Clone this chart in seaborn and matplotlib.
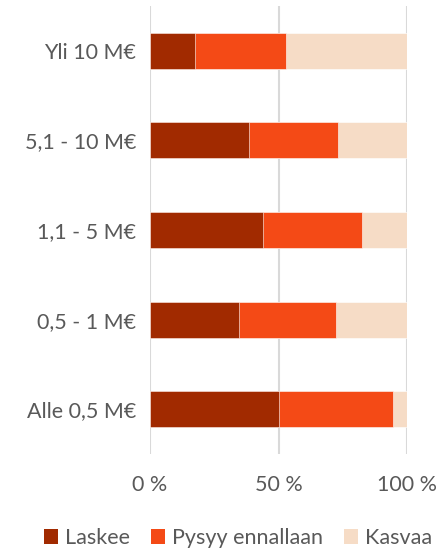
import matplotlib
matplotlib.use("Agg")
import matplotlib.pyplot as plt
import seaborn as sns
import pandas as pd
import numpy as np
from matplotlib.patches import Patch

categories = ["Yli 10 M€", "5,1 - 10 M€", "1,1 - 5 M€", "0,5 - 1 M€", "Alle 0,5 M€"]
laskee = [17.4, 38.4, 43.9, 34.5, 50.3]
pysyy = [35.5, 34.8, 38.4, 37.8, 44.4]
kasvaa = [47.1, 26.8, 17.7, 27.7, 5.3]
series_names = ["Laskee", "Pysyy ennallaan", "Kasvaa"]
colors = ["#A12A00", "#F44A16", "#F6DCC6"]
xticks = [0, 50, 100]
xticklabels = ["0 %", "50 %", "100 %"]

sns.set_theme(style="white")
plt.rcParams['font.family'] = ['Lato', 'DejaVu Sans']

df = pd.DataFrame({"cat": categories, "Laskee": laskee, "Pysyy": pysyy, "Kasvaa": kasvaa})
df["c1"] = df["Laskee"]
df["c2"] = df["Laskee"] + df["Pysyy"]
df["c3"] = df["c2"] + df["Kasvaa"]

fig = plt.figure(figsize=(4.37, 5.51), dpi=100)
ax = fig.add_axes([150/437, 1 - 454/551, 257/437, 448/551])

for x in xticks:
    ax.axvline(x, color="#D9D9D9", lw=1.5, zorder=0)

for col, c in zip(["c3", "c2", "c1"], colors[::-1]):
    sns.barplot(data=df, y="cat", x=col, orient="h", color=c, width=0.4,
                ax=ax, saturation=1, zorder=2, edgecolor="white", linewidth=0.4)

ax.set_xlim(0, 100)
ax.set_ylim(4.5, -0.5)
ax.set_xticks(xticks)
ax.set_xticklabels(xticklabels)
ax.set_xlabel("")
ax.set_ylabel("")
for s in ax.spines.values():
    s.set_visible(False)
ax.tick_params(axis="x", length=0, pad=15, labelsize=15.5, labelcolor="#595959")
ax.tick_params(axis="y", length=0, pad=10, labelsize=15.5, labelcolor="#595959")

handles = [Patch(facecolor=c, edgecolor="none") for c in colors]
fig.legend(handles, series_names, loc="center", bbox_to_anchor=(0.545, 1 - 538/551),
           ncol=3, frameon=False, fontsize=15.5, handlelength=0.65, handleheight=0.65,
           handletextpad=0.3, columnspacing=1.0, labelcolor="#595959")

fig.savefig("out.png", dpi=100)
